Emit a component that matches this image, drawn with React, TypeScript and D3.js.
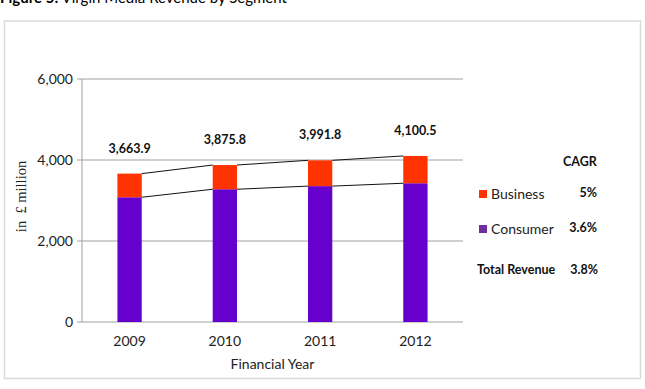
import React from 'react';
import * as d3 from 'd3';

// revenue by segment, £ million
const years = ['2009', '2010', '2011', '2012'];
const consumer = [3080, 3278, 3355, 3426];
const business = [583.9, 597.8, 636.8, 674.5];
const totals = [3663.9, 3875.8, 3991.8, 4100.5];
const yTicks = [0, 2000, 4000, 6000];

const legendRows = [
    {name: 'Business', cagr: '5%', color: '#ff3300'},
    {name: 'Consumer', cagr: '3.6%', color: '#7030a0'},
];
const totalCagr = '3.8%';

const App = () => {
    const width = 645;
    const height = 389;
    const margins = {top: 79, right: 182, bottom: 67, left: 82};
    const innerWidth = width - margins.left - margins.right;
    const innerHeight = height - margins.top - margins.bottom;

    const xScale = d3.scaleBand().domain(years).range([0, innerWidth]).paddingInner(0.745).paddingOuter(0.372);
    const yScale = d3.scaleLinear().domain([0, 6000]).range([innerHeight, 0]);
    const fmt = d3.format(',');
    const fmtTotal = d3.format(',.1f');

    const stacked = years.map((y, i) => ({year: y, consumer: consumer[i], business: business[i], total: totals[i]}));

    const font = 'Lato, "Open Sans", sans-serif';

    return (
        <svg width={width} height={height} style={{position: 'absolute', left: 0, top: 0}} fontFamily={font}>
            <rect width={width} height={height} fill="#fff"/>
            <text x={0} y={3} fontSize={15} fill="#000">
                <tspan fontWeight="bold">Figure 5:</tspan> Virgin Media Revenue by Segment
            </text>
            <rect x={4.5} y={21} width={636} height={357.5} fill="none" stroke="#d9d9d9" strokeWidth={1.5}/>

            <g transform={`translate(${margins.left}, ${margins.top})`}>
                {yTicks.map(t => (
                    <g key={t}>
                        <line x1={-5} x2={innerWidth} y1={yScale(t)} y2={yScale(t)} stroke="#a0a0a0"/>
                        <text x={-9} y={yScale(t)} dy="0.35em" textAnchor="end" fontSize={14} fill="#222">{fmt(t)}</text>
                    </g>
                ))}
                <line x1={0} x2={0} y1={0} y2={innerHeight} stroke="#a0a0a0"/>

                {stacked.map(d => {
                    const x = xScale(d.year)!;
                    return (
                        <g key={d.year}>
                            <rect x={x} width={xScale.bandwidth()} y={yScale(d.consumer)}
                                  height={innerHeight - yScale(d.consumer)} fill="#6600cc"/>
                            <rect x={x} width={xScale.bandwidth()} y={yScale(d.consumer + d.business)}
                                  height={yScale(d.consumer) - yScale(d.consumer + d.business)} fill="#ff3300"/>
                            <text x={x + xScale.bandwidth() / 2} y={yScale(d.total) - 21} textAnchor="middle"
                                  fontSize={12.5} fontWeight="bold" fill="#111">{fmtTotal(d.total)}</text>
                            <text x={x + xScale.bandwidth() / 2} y={innerHeight + 24} textAnchor="middle"
                                  fontSize={14} fill="#222">{d.year}</text>
                        </g>
                    );
                })}

                {/* series lines between neighbouring columns */}
                {stacked.slice(1).map((d, i) => {
                    const prev = stacked[i];
                    const x1 = xScale(prev.year)! + xScale.bandwidth();
                    const x2 = xScale(d.year)!;
                    return (
                        <g key={d.year}>
                            <line x1={x1} x2={x2} y1={yScale(prev.consumer)} y2={yScale(d.consumer)} stroke="#111"/>
                            <line x1={x1} x2={x2} y1={yScale(prev.consumer + prev.business)}
                                  y2={yScale(d.consumer + d.business)} stroke="#111"/>
                        </g>
                    );
                })}

                <text x={innerWidth / 2} y={innerHeight + 47} textAnchor="middle" fontSize={14} fill="#222">Financial Year</text>
                <text transform={`translate(-56, ${innerHeight / 2 - 4}) rotate(-90)`} textAnchor="middle"
                      fontSize={14.5} fontFamily='"Liberation Serif", serif' fill="#222"
                      style={{whiteSpace: 'pre'}}>{'in  £ million'}</text>
            </g>

            <g>
                <text x={580} y={166} textAnchor="middle" fontSize={12.5} fontWeight="bold" fill="#111">CAGR</text>
                {legendRows.map((r, i) => (
                    <g key={r.name} transform={`translate(0, ${194 + i * 35})`}>
                        <rect x={479} y={-4} width={8} height={8} fill={r.color}/>
                        <text x={491} y={0} dy="0.35em" fontSize={14} fill="#222">{r.name}</text>
                        <text x={597} y={-1} dy="0.35em" textAnchor="end" fontSize={12.5} fontWeight="bold" fill="#111">{r.cagr}</text>
                    </g>
                ))}
                <text x={477} y={270} dy="0.35em" fontSize={12.5} fontWeight="bold" fill="#111">Total Revenue</text>
                <text x={598} y={270} dy="0.35em" textAnchor="end" fontSize={12.5} fontWeight="bold" fill="#111">{totalCagr}</text>
            </g>
        </svg>
    );
};

export default App;
